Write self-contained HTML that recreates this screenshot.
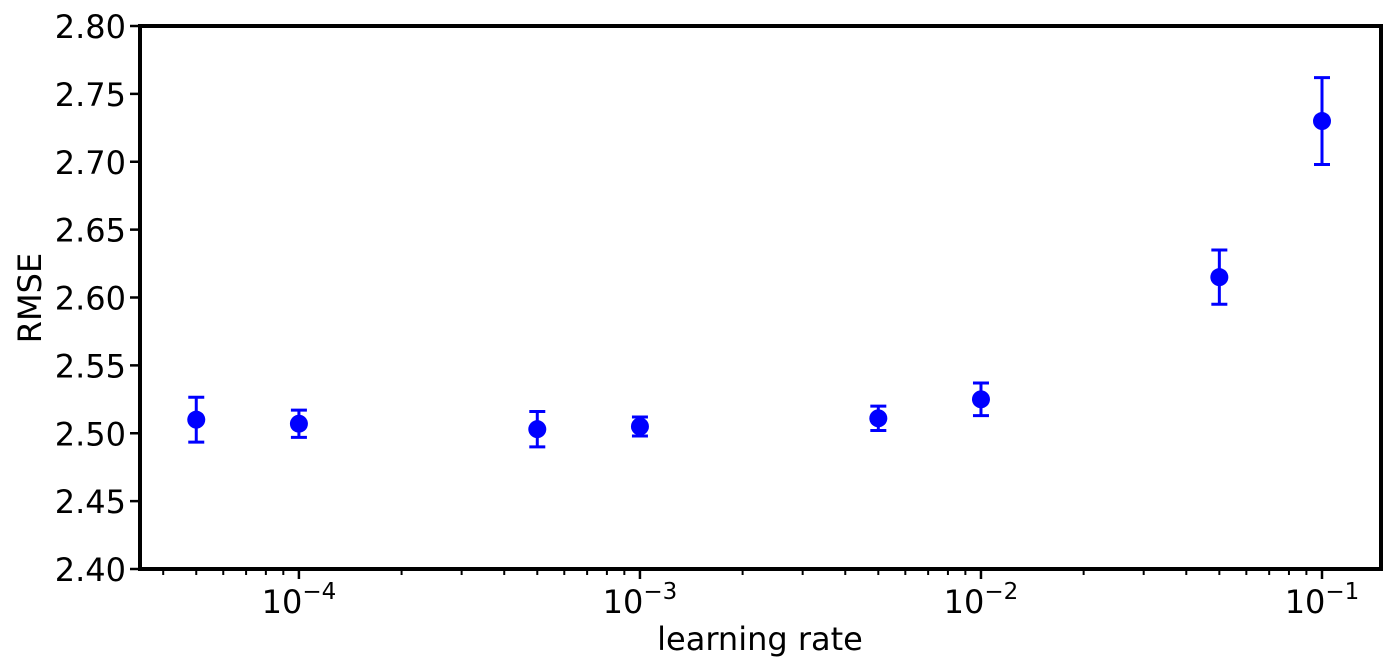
<!DOCTYPE html>
<html><head><meta charset="utf-8"><style>
html,body{margin:0;padding:0;background:#fff;}
svg{display:block;font-family:"DejaVu Sans","Liberation Sans",sans-serif;}
</style></head><body>
<svg id="chart" width="1391" height="670" xmlns="http://www.w3.org/2000/svg">
<g id="axes"></g>
<g id="marks"></g>
<text x="760" y="650" font-size="32" text-anchor="middle">learning rate</text>
<text transform="translate(41,298) rotate(-90)" font-size="32" text-anchor="middle">RMSE</text>
</svg>
<script>
const learningRates = [5e-5, 1e-4, 5e-4, 1e-3, 5e-3, 1e-2, 5e-2, 1e-1];
const rmseValues = [2.510, 2.507, 2.503, 2.505, 2.511, 2.525, 2.615, 2.730];
const rmseErrors = [0.0165, 0.010, 0.013, 0.007, 0.009, 0.012, 0.020, 0.032];
const yTicks = [2.40, 2.45, 2.50, 2.55, 2.60, 2.65, 2.70, 2.75, 2.80];
const xMajorExps = [-4, -3, -2, -1];

const L=140, R=1381, T=26, B=569;
const xMinLog=-4.466, xMaxLog=-0.827, yMin=2.40, yMax=2.80;
const NS="http://www.w3.org/2000/svg";
function xs(v){return L+(Math.log10(v)-xMinLog)/(xMaxLog-xMinLog)*(R-L);}
function ys(v){return B-(v-yMin)/(yMax-yMin)*(B-T);}
function mk(tag,attrs,parent){const e=document.createElementNS(NS,tag);for(const k in attrs)e.setAttribute(k,attrs[k]);parent.appendChild(e);return e;}
const axes=document.getElementById('axes'), marks=document.getElementById('marks');

yTicks.forEach(t=>{
  const y=ys(t);
  const tk=mk('line',{x1:L-10,x2:L,y1:y,y2:y,stroke:'#000','stroke-width':2.5},axes);
  
  
  const lb=mk('text',{x:L-14,y:y+12,'font-size':32,'text-anchor':'end'},axes);
  lb.textContent=t.toFixed(2);
  
  
});
for(let e=-5;e<=0;e++){
  for(let m=2;m<=9;m++){
    const v=m*Math.pow(10,e);
    const lv=Math.log10(v);
    if(lv<xMinLog||lv>xMaxLog)continue;
    const x=xs(v);
    const mt=mk('line',{x1:x,x2:x,y1:B,y2:B+6,stroke:'#000','stroke-width':2},axes);
    
    
  }
}
xMajorExps.forEach(e=>{
  const x=xs(Math.pow(10,e));
  const tk=mk('line',{x1:x,x2:x,y1:B,y2:B+10,stroke:'#000','stroke-width':2.5},axes);
  
  
  const lb=mk('text',{x:x,y:B+44,'font-size':32,'text-anchor':'middle'},axes);
  
  
  const t1=mk('tspan',{},lb);t1.textContent='10';
  const t2=mk('tspan',{dy:-14,'font-size':23},lb);t2.textContent='\u2212'+Math.abs(e);
});
const frame=mk('rect',{x:L,y:T,width:R-L,height:B-T,fill:'none',stroke:'#000','stroke-width':4},axes);



learningRates.forEach((lr,i)=>{
  const x=xs(lr), y=ys(rmseValues[i]), y1=ys(rmseValues[i]+rmseErrors[i]), y2=ys(rmseValues[i]-rmseErrors[i]);
  const g=mk('g',{},marks);
  
  
  mk('line',{x1:x,x2:x,y1:y1,y2:y2,stroke:'#0000ff','stroke-width':3},g);
  mk('line',{x1:x-8,x2:x+8,y1:y1,y2:y1,stroke:'#0000ff','stroke-width':3},g);
  mk('line',{x1:x-8,x2:x+8,y1:y2,y2:y2,stroke:'#0000ff','stroke-width':3},g);
  mk('circle',{cx:x,cy:y,r:9,fill:'#0000ff'},g);
});
</script>
</body></html>
